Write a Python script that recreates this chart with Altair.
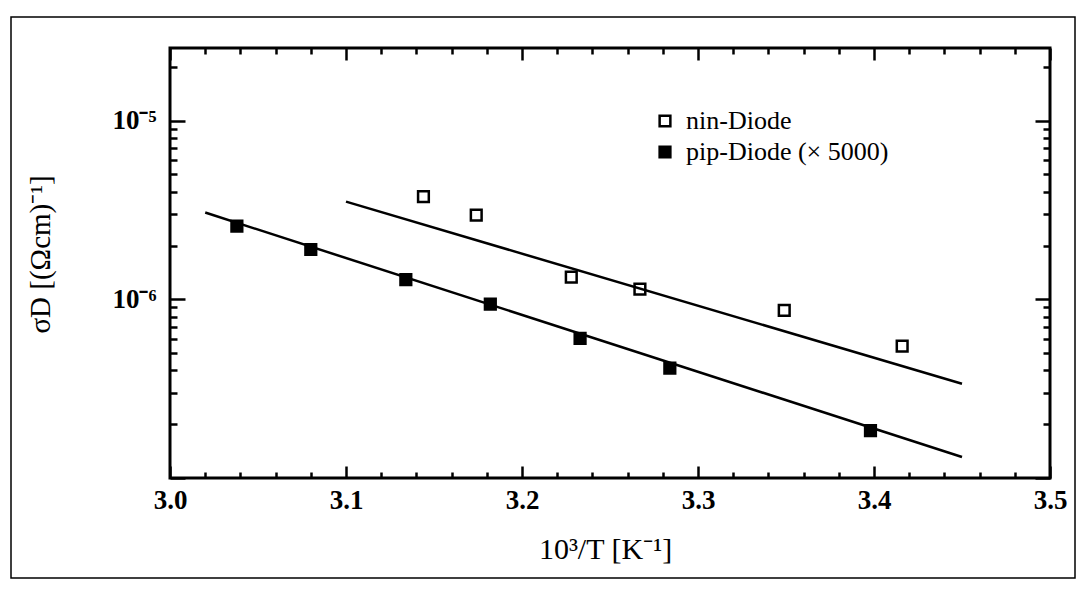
import altair as alt
import pandas as pd

# ---- data ----
series = ["nin-Diode", "pip-Diode (× 5000)"]

nin_x = [3.144, 3.174, 3.228, 3.267, 3.349, 3.416]
nin_y = [3.76e-6, 2.96e-6, 1.33e-6, 1.14e-6, 8.67e-7, 5.47e-7]

pip_x = [3.038, 3.080, 3.134, 3.182, 3.233, 3.284, 3.398]
pip_y = [2.57e-6, 1.90e-6, 1.29e-6, 9.4e-7, 6.05e-7, 4.12e-7, 1.84e-7]

nin_fit_x = [3.10, 3.45]
nin_fit_y = [3.52e-6, 3.37e-7]
pip_fit_x = [3.02, 3.45]
pip_fit_y = [3.06e-6, 1.31e-7]

x_ticks = [3.0, 3.02, 3.04, 3.06, 3.08, 3.1, 3.12, 3.14, 3.16, 3.18,
           3.2, 3.22, 3.24, 3.26, 3.28, 3.3, 3.32, 3.34, 3.36, 3.38,
           3.4, 3.42, 3.44, 3.46, 3.48, 3.5]
y_ticks = [1e-7, 2e-7, 3e-7, 4e-7, 5e-7, 6e-7, 7e-7, 8e-7, 9e-7,
           1e-6, 2e-6, 3e-6, 4e-6, 5e-6, 6e-6, 7e-6, 8e-6, 9e-6,
           1e-5, 2e-5]
x_domain = [3.0, 3.5]
y_domain = [1e-7, 2.55e-5]

# ---- tables ----
pts = pd.DataFrame({
    "x": nin_x + pip_x,
    "y": nin_y + pip_y,
    "series": [series[0]] * len(nin_x) + [series[1]] * len(pip_x),
})
fits = pd.DataFrame({
    "x": nin_fit_x + pip_fit_x,
    "y": nin_fit_y + pip_fit_y,
    "series": [series[0]] * 2 + [series[1]] * 2,
})

SERIF = "Liberation Serif"
xs = alt.Scale(domain=x_domain, nice=False, zero=False)
ys = alt.Scale(type="log", domain=y_domain, nice=False)

x_major = "abs(datum.value*10 - round(datum.value*10)) < 0.001"
y_major = "abs(log(datum.value)/LN10 - round(log(datum.value)/LN10)) < 0.001"
x_tick_expr = {"expr": f"{x_major} ? -12 : -6"}
y_tick_expr = {"expr": f"{y_major} ? -15 : -7"}

common = dict(domain=False, grid=False, tickColor="black", tickWidth=2.5)

x_bottom = alt.Axis(
    orient="bottom", values=x_ticks, tickSize=x_tick_expr,
    labelExpr=f"{x_major} ? format(datum.value, '.1f') : ''",
    labelPadding=21, labelFont=SERIF, labelFontSize=27, labelFontWeight="bold",
    labelColor="black", labelFlush=False, labelOverlap=False,
    title="10³/T [K⁻¹]", titleFont=SERIF, titleFontSize=30,
    titleFontWeight="normal", titleColor="black",
    titleX=435, titleY=71, titleAlign="center", titleBaseline="middle",
    **common,
)
y_left = alt.Axis(
    orient="left", values=y_ticks, tickSize=y_tick_expr,
    labelExpr="abs(log(datum.value)/LN10 + 6) < 0.01 ? '10⁻⁶' : "
              "(abs(log(datum.value)/LN10 + 5) < 0.01 ? '10⁻⁵' : '')",
    labelPadding=29, labelFont=SERIF, labelFontSize=27, labelFontWeight="bold",
    labelColor="black", labelFlush=False, labelOverlap=False,
    title="σD [(Ωcm)⁻¹]", titleFont=SERIF, titleFontSize=29,
    titleFontWeight="normal", titleColor="black",
    titleX=-130, titleY=206, titleAngle=270, titleAlign="center",
    titleBaseline="middle",
    **common,
)
x_top = alt.Axis(orient="top", values=x_ticks, tickSize=x_tick_expr,
                 labels=False, title=None, **common)
y_right = alt.Axis(orient="right", values=y_ticks, tickSize=y_tick_expr,
                   labels=False, title=None, **common)

points = alt.Chart(pts).mark_point(
    shape="square", filled=True, size=115, stroke="black",
    strokeWidth=2.5, opacity=1,
).encode(
    x=alt.X("x:Q", scale=xs, axis=x_bottom),
    y=alt.Y("y:Q", scale=ys, axis=y_left),
    fill=alt.Fill(
        "series:N",
        scale=alt.Scale(domain=series, range=["rgba(255,255,255,0)", "black"]),
        legend=alt.Legend(
            orient="none", legendX=482, legendY=60, title=None,
            symbolType="square", symbolSize=115, symbolStrokeColor="black",
            symbolStrokeWidth=2.5, symbolOpacity=1, labelFont=SERIF,
            labelFontSize=26, labelColor="black", labelOffset=8,
            labelLimit=500, rowPadding=5, padding=0,
        ),
    ),
)

lines = alt.Chart(fits).mark_line(color="black", strokeWidth=2.5).encode(
    x=alt.X("x:Q", scale=xs, axis=x_top),
    y=alt.Y("y:Q", scale=ys, axis=y_right),
    detail="series:N",
)

frame = alt.Chart(pd.DataFrame({"a": [1]})).mark_rect(
    filled=False, stroke="black", strokeWidth=1.5
).encode(
    x=alt.value(-159), x2=alt.value(905),
    y=alt.value(-31), y2=alt.value(530),
)

chart = alt.layer(lines, points, frame).resolve_axis(
    x="independent", y="independent"
).properties(
    width=880, height=430,
    autosize=alt.AutoSizeParams(type="none"),
    padding={"left": 162, "top": 40, "right": 27, "bottom": 104},
    background="white",
).configure_view(stroke="black", strokeWidth=3)

chart.save("out.html", embed_options={"renderer": "svg", "actions": False})
